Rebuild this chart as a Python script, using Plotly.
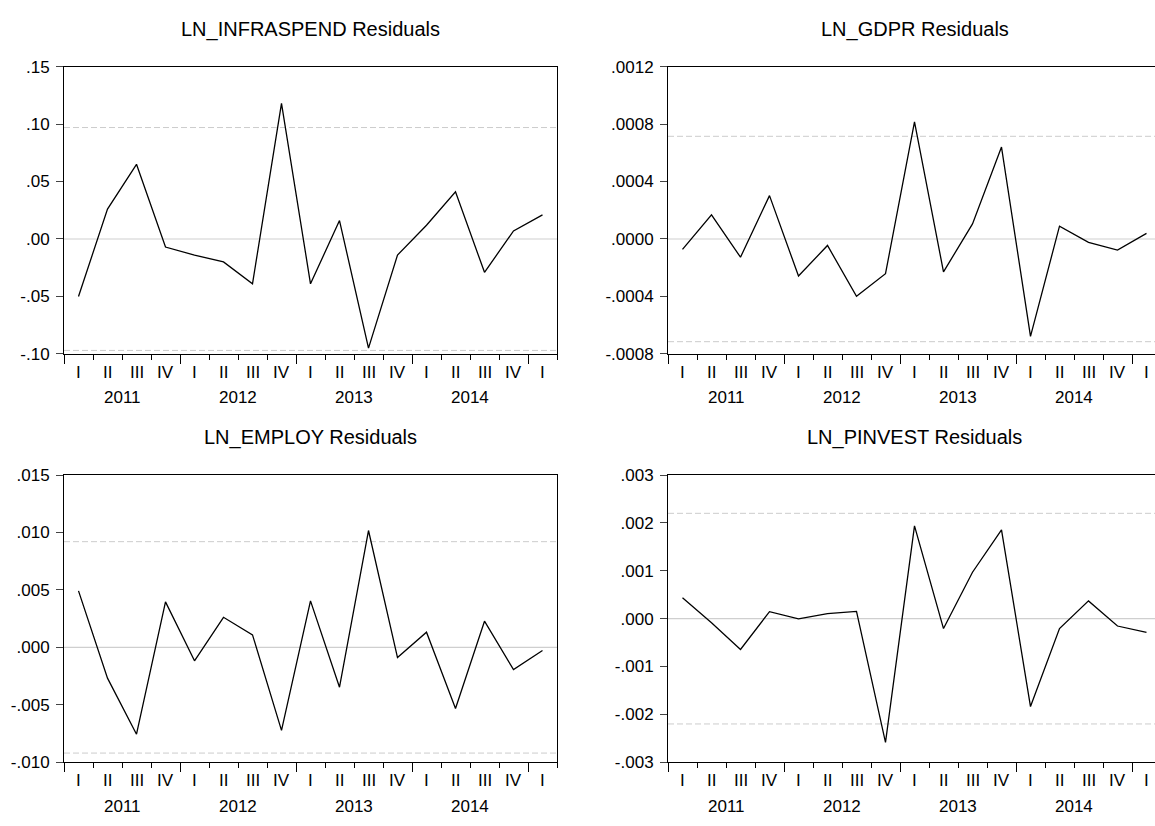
import plotly.graph_objects as go

# Quarterly sample 2011Q1 - 2015Q1
quarter_labels = ["I", "II", "III", "IV"] * 4 + ["I"]
year_labels = ["2011", "2012", "2013", "2014"]
year_centers = [1.5, 5.5, 9.5, 13.5]

# Residual series
infraspend_resid = [-0.050, 0.026, 0.065, -0.007, -0.014, -0.020, -0.039, 0.118, -0.039,
                    0.016, -0.095, -0.014, 0.012, 0.041, -0.029, 0.007, 0.021]
gdpr_resid = [-0.000072, 0.000168, -0.000127, 0.000302, -0.000258, -0.000045, -0.000399,
              -0.000242, 0.000815, -0.000229, 0.000105, 0.000640, -0.000678, 0.000089,
              -0.000024, -0.000077, 0.000039]
employ_resid = [0.00492, -0.00268, -0.00756, 0.00396, -0.00117, 0.00262, 0.00109, -0.00722,
                0.00405, -0.00347, 0.01017, -0.00089, 0.00132, -0.00532, 0.00228, -0.00194,
                -0.00027]
pinvest_resid = [0.000438, -0.000085, -0.000644, 0.000146, -0.000003, 0.000105, 0.000152,
                 -0.002585, 0.001938, -0.000207, 0.000969, 0.001856, -0.001836, -0.000207,
                 0.000371, -0.000154, -0.000289]

# +/- 2 S.E. bands
infraspend_band = 0.097
gdpr_band = 0.000715
employ_band = 0.0092
pinvest_band = 0.0022

# Y tick values
infraspend_ticks = [-0.10, -0.05, 0.00, 0.05, 0.10, 0.15]
gdpr_ticks = [-0.0008, -0.0004, 0.0, 0.0004, 0.0008, 0.0012]
employ_ticks = [-0.010, -0.005, 0.000, 0.005, 0.010, 0.015]
pinvest_ticks = [-0.003, -0.002, -0.001, 0.000, 0.001, 0.002, 0.003]

titles = ["LN_INFRASPEND Residuals", "LN_GDPR Residuals",
          "LN_EMPLOY Residuals", "LN_PINVEST Residuals"]

panels = [
    (infraspend_resid, infraspend_band, infraspend_ticks, 2),
    (gdpr_resid, gdpr_band, gdpr_ticks, 4),
    (employ_resid, employ_band, employ_ticks, 3),
    (pinvest_resid, pinvest_band, pinvest_ticks, 3),
]

W, H = 1155, 826
FONT = "Liberation Sans, Arial, sans-serif"
TICK_SIZE = 17
TITLE_SIZE = 20

# pixel boxes of the plot areas: (left, right, top, bottom)
boxes = [(64, 557, 59, 353), (668, 1155, 59, 353),
         (64, 557, 477, 771), (668, 1155, 477, 771)]
QW = (557 - 64) / 17.0  # width of one quarter in px


def fmt(v, d):
    s = f"{v:.{d}f}"
    return s.replace("0.", ".", 1)


fig = go.Figure()
layout = dict(width=W, height=H, margin=dict(l=0, r=0, t=0, b=0),
              paper_bgcolor="white", plot_bgcolor="white", showlegend=False,
              font=dict(family=FONT, size=TICK_SIZE, color="black"))
shapes = []
annotations = []

for i, ((vals, band, ticks, dec), title, box) in enumerate(zip(panels, titles, boxes)):
    n = "" if i == 0 else str(i + 1)
    xa, ya = "x" + n, "y" + n
    left, right, top, bottom = box
    x_idx = list(range(len(vals)))

    fig.add_trace(go.Scatter(x=x_idx, y=vals, mode="lines", xaxis=xa, yaxis=ya,
                             line=dict(color="black", width=1.3), hoverinfo="skip"))

    x_end = -0.5 + (right - left) / QW
    layout["xaxis" + n] = dict(
        domain=[left / W, right / W], anchor=ya, range=[-0.5, x_end],
        showgrid=False, zeroline=False, showline=True, linecolor="black", linewidth=1,
        mirror=True, ticks="outside", ticklen=9, tickwidth=1, tickcolor="black",
        tick0=-0.5, dtick=4, showticklabels=False,
        minor=dict(ticks="outside", ticklen=5, tickwidth=1, tickcolor="black",
                   tick0=-0.5, dtick=1, showgrid=False),
    )
    layout["yaxis" + n] = dict(
        domain=[1 - bottom / H, 1 - top / H], anchor=xa,
        range=[ticks[0], ticks[-1]], showgrid=False, zeroline=False,
        showline=True, linecolor="black", linewidth=1, mirror=(i % 2 == 0),
        ticks="outside", ticklen=7, tickwidth=1, tickcolor="#444444",
        ticklabelstandoff=3,
        tickvals=ticks, ticktext=[fmt(t, dec) for t in ticks],
        tickfont=dict(family=FONT, size=TICK_SIZE, color="black"),
    )

    # zero line and +/- band lines
    shapes.append(dict(type="line", xref=xa + " domain", x0=0, x1=1, yref=ya, y0=0, y1=0,
                       line=dict(color="#cfcfcf", width=1.2), layer="below"))
    for b in (band, -band):
        shapes.append(dict(type="line", xref=xa + " domain", x0=0, x1=1, yref=ya, y0=b, y1=b,
                           line=dict(color="#cccccc", width=1, dash="6px,3px"), layer="below"))

    ph = bottom - top
    for q, lab in enumerate(quarter_labels):
        annotations.append(dict(text=lab, xref=xa, x=q, yref=ya + " domain", y=-19 / ph,
                                yanchor="middle", xanchor="center", showarrow=False,
                                font=dict(family=FONT, size=TICK_SIZE, color="black")))
    for yc, lab in zip(year_centers, year_labels):
        annotations.append(dict(text=lab, xref=xa, x=yc, yref=ya + " domain", y=-45 / ph,
                                yanchor="middle", xanchor="center", showarrow=False,
                                font=dict(family=FONT, size=TICK_SIZE, color="black")))
    annotations.append(dict(text=title, xref=xa, x=8, yref=ya + " domain", y=1 + 38 / ph,
                            yanchor="middle", xanchor="center", showarrow=False,
                            font=dict(family=FONT, size=TITLE_SIZE, color="black")))

layout["shapes"] = shapes
layout["annotations"] = annotations
fig.update_layout(**layout)
fig.write_html("out.html")
